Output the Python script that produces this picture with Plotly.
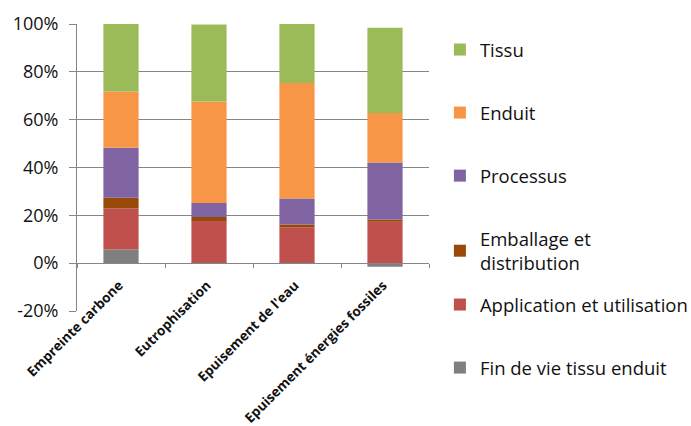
import plotly.graph_objects as go

categories = ["Empreinte carbone", "Eutrophisation", "Epuisement de l'eau", "Epuisement énergies fossiles"]
fin_de_vie = [5.7, 0.2, 0.2, -1.5]
application = [17.2, 17.4, 14.8, 17.3]
emballage = [4.5, 1.7, 1.2, 1.0]
processus = [20.9, 5.9, 10.8, 23.8]
enduit = [23.5, 42.4, 48.3, 20.7]
tissu = [28.2, 32.2, 24.7, 35.6]

y_ticks = [-20, 0, 20, 40, 60, 80, 100]

FONT = "Open Sans, sans-serif"
# name, values, colour, legend box, legend rank (top first)
series = [
    ("Fin de vie tissu enduit", fin_de_vie, "#7F7F7F", "legend2", 6),
    ("Application et utilisation", application, "#C0504D", "legend2", 5),
    ("Emballage et<br>distribution", emballage, "#984807", "legend", 4),
    ("Processus", processus, "#8064A2", "legend", 3),
    ("Enduit", enduit, "#F79646", "legend", 2),
    ("Tissu", tissu, "#9BBB59", "legend", 1),
]

fig = go.Figure()
for name, vals, color, lg, rank in series:
    fig.add_trace(go.Bar(
        x=categories, y=vals, name=name, legend=lg, legendgroup=name,
        legendrank=rank,
        marker=dict(color=color, line=dict(width=0)),
    ))

grid = "#868686"
legend_common = dict(
    xanchor="left", yanchor="top",
    traceorder="grouped", tracegroupgap=36, maxheight=420,
    font=dict(size=18.5), itemwidth=30, bgcolor="rgba(0,0,0,0)",
)
fig.update_layout(
    width=691, height=426,
    barmode="relative", bargap=0.6,
    plot_bgcolor="white", paper_bgcolor="white",
    margin=dict(l=77, r=262, t=24, b=115, autoexpand=False),
    font=dict(family=FONT, size=18, color="#111111"),
    yaxis=dict(
        range=[-20, 100], tickvals=y_ticks, ticktext=[f"{v}%" for v in y_ticks],
        showgrid=True, gridcolor=grid, gridwidth=1,
        showline=True, linecolor=grid, linewidth=1,
        ticks="outside", ticklen=7, tickcolor=grid,
        zeroline=False, tickfont=dict(size=18), automargin=False,
        ticklabelstandoff=7,
    ),
    xaxis=dict(
        anchor="free", position=1/6,
        showline=True, linecolor=grid, linewidth=1,
        showgrid=False, tickson="boundaries",
        ticks="outside", ticklen=4, tickcolor=grid,
        tickangle=-45, tickfont=dict(size=13.5, family=FONT, weight="bold"),
        automargin=False, ticklabelstandoff=8, ticklabelshift=-2,
    ),
    legend=dict(x=1.031, y=0.9756, **legend_common),
    legend2=dict(x=1.031, y=0.0871, **legend_common),
    showlegend=True,
)

fig.write_html(
    "out.html",
    config={"displayModeBar": False},
    post_script="document.body.style.margin='0';document.body.style.padding='0';",
)
